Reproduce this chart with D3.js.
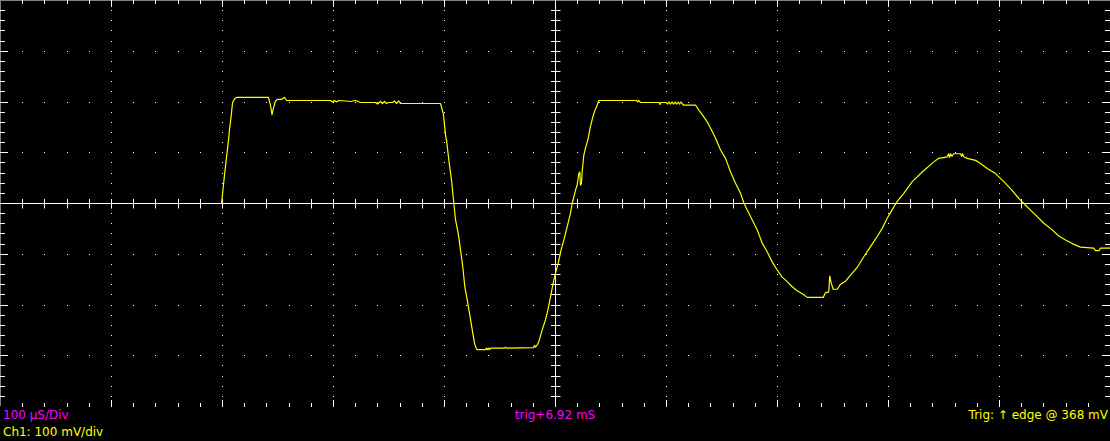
<!DOCTYPE html>
<html><head><meta charset="utf-8">
<script src="https://cdn.jsdelivr.net/npm/d3@7"></script>
<style>html,body{margin:0;padding:0;background:#000;overflow:hidden}svg{display:block}</style>
</head><body><svg id="c" width="1110" height="441"></svg>
<script>
// Time in microseconds across the screen (10 div x 100 µs)
const timeUs = [199.1,201.8,205.4,206.3,208.1,209.0,210.8,212.6,241.4,243.2,244.6,245.9,247.7,249.5,253.2,255.0,255.9,257.7,297.3,299.1,300.9,302.7,304.5,310.8,315.3,319.8,324.3,337.8,339.6,342.3,344.1,345.9,347.7,349.5,353.2,355.0,356.8,358.6,360.4,396.4,397.3,399.1,400.0,400.9,401.8,404.5,406.3,408.4,409.9,412.3,414.4,416.5,418.3,420.5,422.5,425.0,427.0,428.8,429.7,436.9,437.8,438.7,439.6,440.5,441.4,454.1,455.0,455.9,480.2,481.1,482.0,482.9,483.8,485.0,488.0,491.0,493.1,495.5,497.9,500.0,502.4,505.1,507.5,510.5,513.5,515.0,518.0,519.5,521.0,521.9,522.5,523.4,524.0,525.5,527.0,529.1,531.5,533.6,535.4,537.6,539.0,539.6,573.0,573.9,574.8,575.7,576.6,593.7,594.1,595.0,600.0,600.9,602.3,603.6,605.0,606.3,607.7,609.0,610.4,611.7,613.1,614.4,615.3,626.1,629.1,632.2,636.7,641.2,644.1,648.6,653.2,657.7,662.2,666.7,669.6,672.7,677.2,681.7,686.2,690.7,695.2,699.7,704.2,708.7,713.2,717.7,723.7,726.8,741.2,743.2,746.2,747.1,748.4,750.2,753.8,756.8,761.3,765.8,771.8,777.7,783.8,789.8,794.3,798.8,801.8,807.8,813.8,821.4,830.4,840.8,845.3,852.9,854.1,855.0,855.9,857.2,858.6,864.9,865.8,866.7,867.8,870.9,878.4,882.9,888.9,896.4,903.9,911.4,917.4,921.9,927.9,934.0,939.9,947.5,953.4,959.5,965.5,973.0,984.9,986.5,989.5,991.0,1000];
// Channel 1 voltage in mV (100 mV/div)
const ch1Mv = [-1,56,125,145,178,198,206,209,209,194,175,188,202,205,205,208,209,203,203,200,203,200,203,202,201,203,199,199,196,201,197,201,197,199,199,202,197,202,197,197,190,175,155,135,125,75,46,1,-32,-58,-91,-125,-164,-190,-216,-249,-275,-287,-288,-288,-285,-288,-285,-288,-285,-285,-283,-285,-284,-280,-283,-280,-278,-272,-249,-229,-210,-184,-157,-137,-118,-91,-72,-46,-19,0,26,36,59,62,36,40,62,95,109,125,152,170,183,194,203,203,203,200,203,201,199,199,195,199,199,196,200,196,200,196,200,196,200,196,200,196,194,194,184,175,161,142,129,106,89,62,40,20,2,-13,-32,-52,-78,-95,-115,-131,-145,-154,-164,-172,-180,-185,-185,-176,-174,-143,-157,-169,-169,-159,-153,-141,-126,-105,-85,-65,-49,-29,-18,4,20,43,62,82,89,92,98,91,98,93,98,98,93,98,92,89,85,79,69,59,43,26,10,0,-13,-26,-39,-52,-64,-72,-79,-86,-88,-93,-93,-88,-88];

const timeDomainUs = [0, 1000];
const voltDomainMv = [-400, 400];
const minorTimeUs = 20, majorTimeUs = 100;
const minorVoltMv = 20, majorVoltMv = 100;

const labelTimebase = "100 µS/Div";
const labelChannel = "Ch1: 100 mV/div";
const labelTrigPos = "trig+6.92 mS";
const labelTrigger = "Trig: \u2191 edge @ 368 mV";

const svg = d3.select("#c");
svg.append("rect").attr("width",1110).attr("height",441).attr("fill","#000");

const x = d3.scaleLinear().domain(timeDomainUs).range([0.5, 1110.5]);
const y = d3.scaleLinear().domain(voltDomainMv).range([406.5, 0.5]);
const px = t => Math.round(x(t) - 0.5) + 0.5;
const py = v => Math.round(y(v) - 0.5) + 0.5;

const minorT = d3.range(timeDomainUs[0], timeDomainUs[1] + 0.01, minorTimeUs);
const minorV = d3.range(voltDomainMv[0], voltDomainMv[1] + 0.01, minorVoltMv);
const majorT = d3.range(timeDomainUs[0], timeDomainUs[1] + 0.01, majorTimeUs);
const majorV = d3.range(voltDomainMv[0], voltDomainMv[1] + 0.01, majorVoltMv);
const isMajorT = t => Math.abs(t % majorTimeUs) < 1e-6;
const isMajorV = v => Math.abs(v % majorVoltMv) < 1e-6;

const g = svg.append("g");
const W = "#ffffff";

// dotted grid: vertical
majorT.filter(t => t !== 0 && t !== 500 && t !== 1000).forEach(t => {
  minorV.filter(v => v > voltDomainMv[0] && v < voltDomainMv[1]).forEach(v => {
    g.append("rect").attr("x", px(t) - 0.5).attr("y", py(v) - 0.5).attr("width",1).attr("height",1).attr("fill",W);
  });
});
// dotted grid: horizontal
majorV.filter(v => v !== 0 && v !== -400 && v !== 400).forEach(v => {
  minorT.filter(t => t > 0 && t < 1000).forEach(t => {
    g.append("rect").attr("x", px(t) - 0.5).attr("y", py(v) - 0.5).attr("width",1).attr("height",1).attr("fill",W);
  });
});

// border (top & left)
g.append("line").attr("x1",0).attr("x2",1110).attr("y1",0.5).attr("y2",0.5).attr("stroke","#808080");
g.append("line").attr("x1",0.5).attr("x2",0.5).attr("y1",0).attr("y2",406).attr("stroke","#808080");

// center axes
g.append("line").attr("x1",0).attr("x2",1110).attr("y1",py(0)).attr("y2",py(0)).attr("stroke",W);
g.append("line").attr("x1",px(500)).attr("x2",px(500)).attr("y1",0).attr("y2",407).attr("stroke",W);
minorT.filter(t => t > 0 && t < 1000).forEach(t => {
  g.append("line").attr("x1",px(t)).attr("x2",px(t)).attr("y1",py(0)-4.5).attr("y2",py(0)+5).attr("stroke",W);
});
minorV.filter(v => v > -400 && v < 400).forEach(v => {
  g.append("line").attr("x1",px(500)-4.5).attr("x2",px(500)+5).attr("y1",py(v)).attr("y2",py(v)).attr("stroke",W);
});

// edge ticks
minorT.filter(t => t > 0 && t < 1000).forEach(t => {
  const L = isMajorT(t) ? 7 : 4;
  g.append("line").attr("x1",px(t)).attr("x2",px(t)).attr("y1",0).attr("y2",L).attr("stroke",W);
  g.append("line").attr("x1",px(t)).attr("x2",px(t)).attr("y1",407).attr("y2",407-L).attr("stroke",W);
});
minorV.filter(v => v > -400 && v < 400).forEach(v => {
  const L = isMajorV(v) ? 8 : 5;
  g.append("line").attr("x1",0).attr("x2",L).attr("y1",py(v)).attr("y2",py(v)).attr("stroke",W);
  g.append("line").attr("x1",1110).attr("x2",1110-L).attr("y1",py(v)).attr("y2",py(v)).attr("stroke",W);
});

// trace
const pts = timeUs.map((t,i) => [t, ch1Mv[i]]);
svg.append("path").datum(pts)
  .attr("d", d3.line().x(d => x(d[0])).y(d => y(d[1])))
  .attr("fill","none").attr("stroke","#ffff00").attr("stroke-width",1.2).attr("stroke-linejoin","round");

// labels
const font = "'DejaVu Sans', sans-serif";
svg.append("text").attr("x",3).attr("y",419).attr("fill","#ff00ff").attr("font-family",font).attr("font-size",12).text(labelTimebase);
svg.append("text").attr("x",3).attr("y",436).attr("fill","#ffff00").attr("font-family",font).attr("font-size",12).text(labelChannel);
svg.append("text").attr("x",555).attr("y",419).attr("text-anchor","middle").attr("fill","#ff00ff").attr("font-family",font).attr("font-size",12).text(labelTrigPos);
svg.append("text").attr("x",1108).attr("y",419).attr("text-anchor","end").attr("fill","#ffff00").attr("font-family",font).attr("font-size",12).text(labelTrigger);
</script></body></html>
